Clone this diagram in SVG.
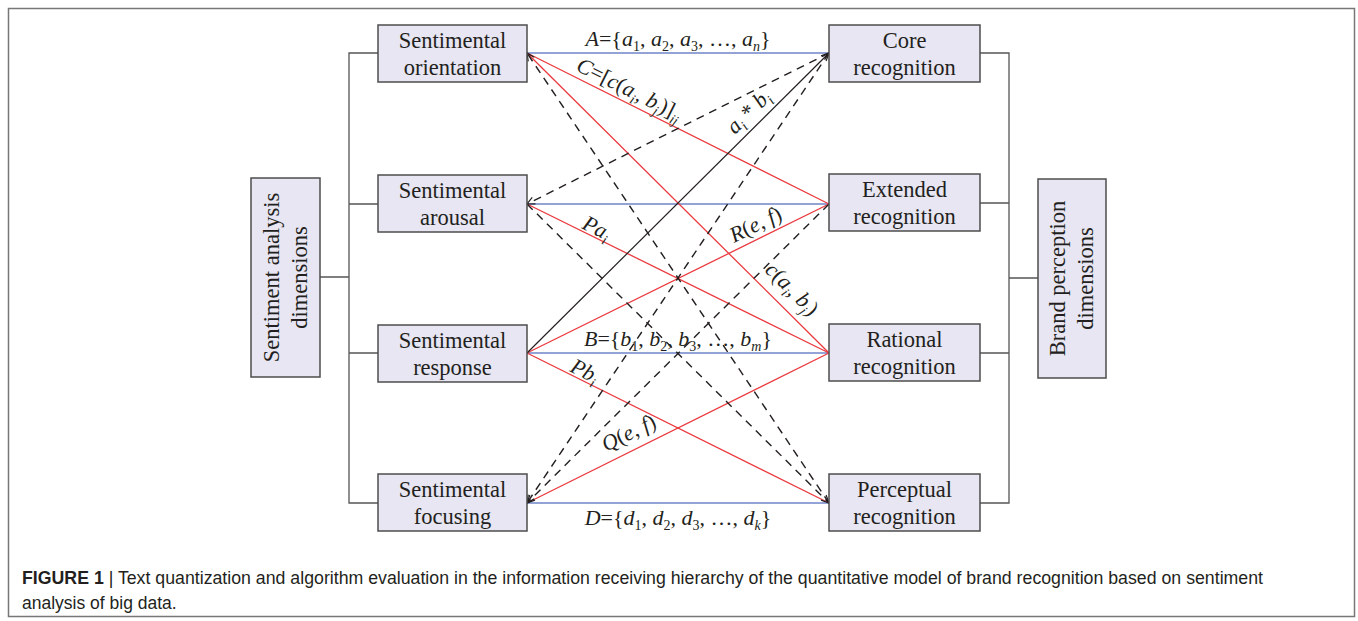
<svg xmlns="http://www.w3.org/2000/svg" width="1358" height="621" viewBox="0 0 1358 621">
<style>
.box{fill:#e7e6f2;stroke:#4d4d4d;stroke-width:1.5}
.br{fill:none;stroke:#555;stroke-width:1.3}
.nt{font-family:"Liberation Serif","Times New Roman",serif;font-size:22.5px;fill:#231f20;text-anchor:middle}
.lb{font-family:"Liberation Serif","Times New Roman",serif;font-size:22px;fill:#231f20}
.i{font-style:italic}
.s{font-size:14px}
.blue{stroke:#6f84c8;stroke-width:1.4;fill:none}
.red{stroke:#ea3a3f;stroke-width:1.3;fill:none}
.blk{stroke:#231f20;stroke-width:1.2;fill:none}
.dash{stroke:#231f20;stroke-width:1.4;fill:none;stroke-dasharray:8,6}
.cap{font-family:"Liberation Sans",Arial,sans-serif;font-size:17.5px;fill:#231f20}
</style>
<defs>
<marker id="ah" viewBox="0 0 10 10" refX="9.5" refY="5" markerWidth="9" markerHeight="9" markerUnits="userSpaceOnUse" orient="auto">
<path d="M1,1 L9.5,5 L1,9" fill="none" stroke="#231f20" stroke-width="1.3"/>
</marker>
</defs>
<rect x="8.5" y="8.5" width="1346" height="608" fill="#fff" stroke="#777" stroke-width="1.5"/>

<g id="brackets">
<path class="br" d="M378,53 H349 V503 H378 M349,204 H378 M349,353 H378 M320,277 H349"/>
<path class="br" d="M980,53 H1009 V503 H980 M1009,203 H980 M1009,353 H980 M1009,278 H1038"/>
</g>

<g id="connectors">
<path class="blue" d="M527,53 H829"/>
<path class="blue" d="M527,204 H829"/>
<path class="blue" d="M527,353 H829"/>
<path class="blue" d="M527,503 H829"/>
<path class="red" d="M527,53 L829,204"/>
<path class="red" d="M527,53 L829,353"/>
<path class="red" d="M527,204 L829,353"/>
<path class="red" d="M527,353 L829,204"/>
<path class="red" d="M527,353 L829,503"/>
<path class="red" d="M527,503 L829,353"/>
<path class="blk" d="M527,353 L829,53" marker-end="url(#ah)"/>
<path class="dash" d="M829,503 L527,53" marker-end="url(#ah)"/>
<path class="dash" d="M527,204 L829,503" marker-end="url(#ah)"/>
<path class="dash" d="M829,53 L527,204" marker-end="url(#ah)"/>
<path class="dash" d="M829,53 L527,503" marker-end="url(#ah)"/>
<path class="dash" d="M829,204 L527,503" marker-end="url(#ah)"/>
</g>

<g id="labels" class="lb">
<text x="678" y="46" text-anchor="middle"><tspan class="i">A</tspan>={<tspan class="i">a</tspan><tspan class="s" dy="5">1</tspan><tspan dy="-5">, </tspan><tspan class="i">a</tspan><tspan class="s" dy="5">2</tspan><tspan dy="-5">, </tspan><tspan class="i">a</tspan><tspan class="s" dy="5">3</tspan><tspan dy="-5">, …, </tspan><tspan class="i">a</tspan><tspan class="s i" dy="5">n</tspan><tspan dy="-5">}</tspan></text>
<text x="678" y="346" text-anchor="middle"><tspan class="i">B</tspan>={<tspan class="i">b</tspan><tspan class="s" dy="5">1</tspan><tspan dy="-5">, </tspan><tspan class="i">b</tspan><tspan class="s" dy="5">2</tspan><tspan dy="-5">, </tspan><tspan class="i">b</tspan><tspan class="s" dy="5">3</tspan><tspan dy="-5">, …, </tspan><tspan class="i">b</tspan><tspan class="s i" dy="5">m</tspan><tspan dy="-5">}</tspan></text>
<text x="678" y="525" text-anchor="middle"><tspan class="i">D</tspan>={<tspan class="i">d</tspan><tspan class="s" dy="5">1</tspan><tspan dy="-5">, </tspan><tspan class="i">d</tspan><tspan class="s" dy="5">2</tspan><tspan dy="-5">, </tspan><tspan class="i">d</tspan><tspan class="s" dy="5">3</tspan><tspan dy="-5">, …, </tspan><tspan class="i">d</tspan><tspan class="s i" dy="5">k</tspan><tspan dy="-5">}</tspan></text>
<text transform="translate(575,70) rotate(26.6)"><tspan class="i">C</tspan>=[<tspan class="i">c</tspan>(<tspan class="i">a</tspan><tspan class="s i" dy="5">i</tspan><tspan dy="-5">, </tspan><tspan class="i">b</tspan><tspan class="s i" dy="5">j</tspan><tspan dy="-5">)]</tspan><tspan class="s i" dy="5">ij</tspan></text>
<text transform="translate(735,135) rotate(-44.8)"><tspan class="i">a</tspan><tspan class="s i" dy="5">i</tspan><tspan dy="-5"> * </tspan><tspan class="i">b</tspan><tspan class="s i" dy="5">i</tspan></text>
<text transform="translate(581,228) rotate(26.3)"><tspan class="i">Pa</tspan><tspan class="s i" dy="5">i</tspan></text>
<text transform="translate(734,243) rotate(-26.3)"><tspan class="i">R</tspan>(<tspan class="i">e</tspan>, <tspan class="i">f</tspan>)</text>
<text transform="translate(764,271) rotate(44.8)"><tspan class="i">c</tspan>(<tspan class="i">a</tspan><tspan class="s i" dy="5">i</tspan><tspan dy="-5">, </tspan><tspan class="i">b</tspan><tspan class="s i" dy="5">j</tspan><tspan dy="-5">)</tspan></text>
<text transform="translate(569,371) rotate(26.4)"><tspan class="i">Pb</tspan><tspan class="s i" dy="5">i</tspan></text>
<text transform="translate(606,452) rotate(-26.4)"><tspan class="i">Q</tspan>(<tspan class="i">e</tspan>, <tspan class="i">f</tspan>)</text>
</g>

<g id="n-sad"><rect class="box" x="251" y="178" width="69" height="199"/>
<text class="nt" transform="translate(279,277.5) rotate(-90)"><tspan x="0" y="0">Sentiment analysis</tspan><tspan x="0" y="28">dimensions</tspan></text></g>
<g id="n-bpd"><rect class="box" x="1038" y="179" width="68" height="199"/>
<text class="nt" transform="translate(1065,278.5) rotate(-90)"><tspan x="0" y="0">Brand perception</tspan><tspan x="0" y="28">dimensions</tspan></text></g>

<g id="n-so"><rect class="box" x="378" y="25" width="149" height="57"/><text class="nt"><tspan x="452.5" y="48">Sentimental</tspan><tspan x="452.5" y="75">orientation</tspan></text></g>
<g id="n-sa"><rect class="box" x="378" y="175" width="149" height="57"/><text class="nt"><tspan x="452.5" y="198">Sentimental</tspan><tspan x="452.5" y="225">arousal</tspan></text></g>
<g id="n-sr"><rect class="box" x="378" y="325" width="149" height="57"/><text class="nt"><tspan x="452.5" y="348">Sentimental</tspan><tspan x="452.5" y="375">response</tspan></text></g>
<g id="n-sf"><rect class="box" x="378" y="474" width="149" height="57"/><text class="nt"><tspan x="452.5" y="497">Sentimental</tspan><tspan x="452.5" y="524">focusing</tspan></text></g>

<g id="n-cr"><rect class="box" x="829" y="25" width="151" height="57"/><text class="nt"><tspan x="904.5" y="48">Core</tspan><tspan x="904.5" y="75">recognition</tspan></text></g>
<g id="n-er"><rect class="box" x="829" y="174" width="151" height="57"/><text class="nt"><tspan x="904.5" y="197">Extended</tspan><tspan x="904.5" y="224">recognition</tspan></text></g>
<g id="n-rr"><rect class="box" x="829" y="324" width="151" height="57"/><text class="nt"><tspan x="904.5" y="347">Rational</tspan><tspan x="904.5" y="374">recognition</tspan></text></g>
<g id="n-pr"><rect class="box" x="829" y="474" width="151" height="57"/><text class="nt"><tspan x="904.5" y="497">Perceptual</tspan><tspan x="904.5" y="524">recognition</tspan></text></g>

<g id="caption" class="cap">
<text x="22" y="584" textLength="1241" lengthAdjust="spacingAndGlyphs"><tspan font-weight="bold">FIGURE 1</tspan> | Text quantization and algorithm evaluation in the information receiving hierarchy of the quantitative model of brand recognition based on sentiment</text>
<text x="22" y="609">analysis of big data.</text>
</g>
</svg>
